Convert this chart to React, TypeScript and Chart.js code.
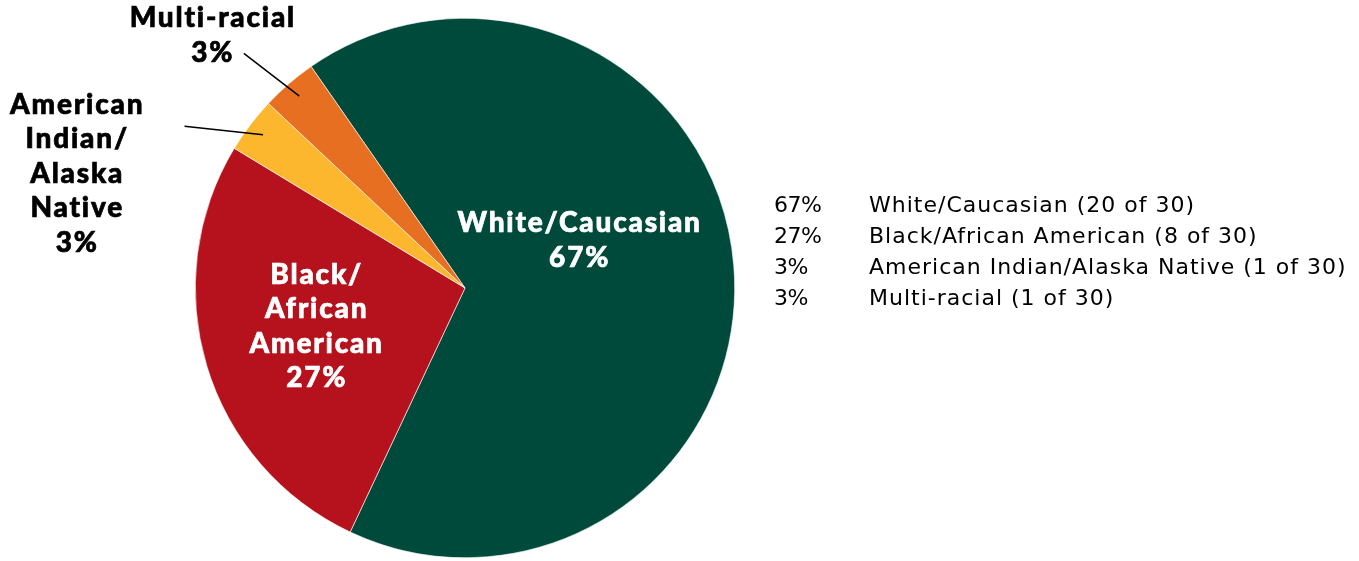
import React, { useEffect, useRef } from "react";
import { Chart, registerables } from "chart.js";

Chart.register(...registerables);

const categories = ["White/Caucasian", "Black/African American", "American Indian/Alaska Native", "Multi-racial"];
const counts = [20, 8, 1, 1];
const total = 30;
const percentLabels = ["67%", "27%", "3%", "3%"];
const sliceLabelLines = [["White/Caucasian", "67%"], ["Black/", "African", "American", "27%"], ["American", "Indian/", "Alaska", "Native", "3%"], ["Multi-racial", "3%"]];
const colors = ["#004A3C", "#B5121D", "#FDB72F", "#E76F22"];

// label placement relative to pie centre, in units of radius (style only)
const labelPlacement = [
  { dx: 0.425, dy: -0.24, color: "#ffffff", outside: false },
  { dx: -0.55, dy: -0.05, color: "#ffffff", outside: false },
  { dx: -1.438, dy: -0.68, color: "#000000", outside: true, lineFrom: { dx: -1.04, dy: -0.6 } },
  { dx: -0.935, dy: -1.0, color: "#000000", outside: true, lineFrom: { dx: -0.82, dy: -0.87 } },
];

const labelsPlugin = {
  id: "customLabels",
  afterDraw(chart: any) {
    const ctx = chart.ctx;
    const meta = chart.getDatasetMeta(0);
    ctx.save();
    meta.data.forEach((arc: any, i: number) => {
      const p = labelPlacement[i];
      const r = arc.outerRadius;
      const cx = arc.x;
      const cy = arc.y;
      const lines = sliceLabelLines[i];
      const lh = 34.5;
      const x = cx + p.dx * r;
      const y0 = cy + p.dy * r;
      ctx.font = "900 28px Lato";
      (ctx as any).letterSpacing = "1.8px";
      ctx.fillStyle = p.color;
      ctx.strokeStyle = p.color;
      ctx.lineWidth = 0.7;
      ctx.textAlign = "center";
      ctx.textBaseline = "middle";
      lines.forEach((t: string, k: number) => {
        ctx.fillText(t, x, y0 + k * lh);
        ctx.strokeText(t, x, y0 + k * lh);
      });
      if (p.outside && p.lineFrom) {
        const mid = (arc.startAngle + arc.endAngle) / 2;
        const ex = cx + Math.cos(mid) * r * 0.94;
        const ey = cy + Math.sin(mid) * r * 0.94;
        ctx.beginPath();
        ctx.strokeStyle = "#000000";
        ctx.lineWidth = 1.5;
        ctx.moveTo(cx + p.lineFrom.dx * r, cy + p.lineFrom.dy * r);
        ctx.lineTo(ex, ey);
        ctx.stroke();
      }
    });
    // legend text block
    ctx.font = "22px 'DejaVu Sans'";
    ctx.fillStyle = "#000000";
    ctx.textAlign = "left";
    ctx.textBaseline = "middle";
    const lx = 774;
    const lx2 = 869;
    const ly = 206;
    const lgap = 31;
    categories.forEach((c, i) => {
      (ctx as any).letterSpacing = "-0.5px";
      ctx.fillText(percentLabels[i], lx, ly + i * lgap);
      (ctx as any).letterSpacing = "1px";
      ctx.fillText(`${c} (${counts[i]} of ${total})`, lx2, ly + i * lgap);
    });
    ctx.restore();
  },
};

export default function App() {
  const ref = useRef<HTMLCanvasElement | null>(null);
  useEffect(() => {
    if (!ref.current) return;
    const chart = new Chart(ref.current, {
      type: "pie",
      data: {
        labels: categories,
        datasets: [
          {
            data: counts,
            backgroundColor: colors,
            borderColor: "#ffffff",
            borderWidth: 0.6,
          },
        ],
      },
      options: {
        responsive: false,
        animation: false,
        rotation: -34.8,
        layout: { padding: { left: 195, right: 624, top: 18, bottom: 3 } },
        plugins: {
          legend: { display: false },
          tooltip: { enabled: false },
        },
      },
      plugins: [labelsPlugin],
    });
    return () => chart.destroy();
  }, []);
  return (
    <div style={{ position: "fixed", left: 0, top: 0, width: 1359, height: 561, background: "#fff" }}>
      <canvas ref={ref} width={1359} height={561} style={{ width: 1359, height: 561 }} />
    </div>
  );
}
